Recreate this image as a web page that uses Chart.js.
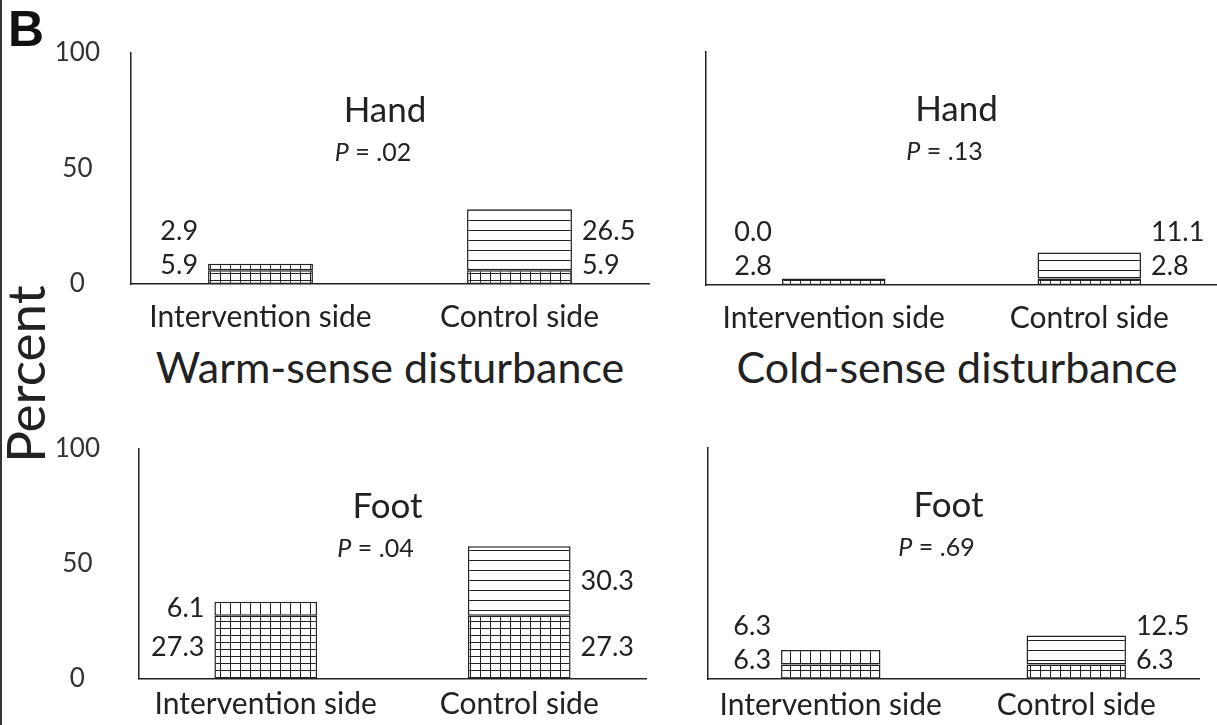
<!DOCTYPE html>
<html>
<head>
<meta charset="utf-8">
<script src="https://cdn.jsdelivr.net/npm/chart.js@4.4.1/dist/chart.umd.min.js"></script>
<style>
  body { margin: 0; background: #fff; width: 1217px; height: 725px; position: relative; overflow: hidden; font-family: Lato, sans-serif; color: #222; }
  canvas { position: absolute; }
  .txt { position: absolute; white-space: nowrap; text-align: center; }
</style>
</head>
<body>
<div style="position:absolute;left:0;top:0;width:2px;height:725px;background:#333"></div>
<div class="txt" style="left:8px;top:0px;font:bold 50px 'Liberation Sans',Arial,sans-serif;color:#111">B</div>
<div class="txt" style="left:-125px;top:347px;width:300px;height:54px;line-height:54px;font-size:53px;transform:rotate(-90deg)">Percent</div>
<div class="txt" style="left:90px;top:342px;width:600px;line-height:50px;font-size:43px">Warm-sense disturbance</div>
<div class="txt" style="left:657px;top:342px;width:600px;line-height:50px;font-size:43px">Cold-sense disturbance</div>

<canvas id="warmHand" width="660" height="340" style="left:0;top:0"></canvas>
<canvas id="coldHand" width="557" height="340" style="left:660px;top:0"></canvas>
<canvas id="warmFoot" width="660" height="335" style="left:0;top:390px"></canvas>
<canvas id="coldFoot" width="557" height="335" style="left:660px;top:390px"></canvas>

<script>
const sides = ['Intervention side', 'Control side'];
const yTicks = [0, 50, 100];

// lower segment (grid hatch) and upper segment of each bar, percent
const warmHandLower = [5.9, 5.9];
const warmHandUpper = [2.9, 26.5];
const coldHandLower = [2.8, 2.8];
const coldHandUpper = [0.0, 11.1];
const warmFootLower = [27.3, 27.3];
const warmFootUpper = [6.1, 30.3];
const coldFootLower = [6.3, 6.3];
const coldFootUpper = [6.3, 12.5];

const panelNames = ['Hand', 'Hand', 'Foot', 'Foot'];
const pValues = ['.02', '.13', '.04', '.69'];

const ink = '#222';

function makePattern(kind) {
    const c = document.createElement('canvas');
    const w = 10, h = kind === 'grid' ? 7 : 10;
    c.width = w; c.height = h;
    const g = c.getContext('2d');
    g.fillStyle = '#fff';
    g.fillRect(0, 0, w, h);
    g.fillStyle = ink;
    if (kind !== 'horiz') g.fillRect(0, 0, 1, h);
    if (kind !== 'vert') g.fillRect(0, 0, w, 1);
    return g.createPattern(c, 'repeat');
}

const gridPat = makePattern('grid');
const vertPat = makePattern('vert');
const horizPat = makePattern('horiz');

// numbers beside the bars, panel name and P value
const panelText = {
    id: 'panelText',
    afterDatasetsDraw(chart, args, opts) {
        const ctx = chart.ctx;
        const lowMeta = chart.getDatasetMeta(0);
        const upMeta = chart.getDatasetMeta(1);
        ctx.save();
        ctx.fillStyle = ink;
        ctx.textBaseline = 'middle';
        ctx.font = '27px Lato';
        for (let i = 0; i < 2; i++) {
            const lo = lowMeta.data[i], up = upMeta.data[i];
            const lowY = Math.min((lo.y + lo.base) / 2, lo.base - 19);
            const upY = Math.min((up.y + up.base) / 2, lowY - 34);
            const onLeft = i === 0;
            ctx.textAlign = onLeft ? 'right' : 'left';
            const x = onLeft ? lo.x - lo.width / 2 - 10 : lo.x + lo.width / 2 + 10;
            ctx.fillText(chart.data.datasets[0].data[i].toFixed(1), x, lowY);
            ctx.fillText(chart.data.datasets[1].data[i].toFixed(1), x, upY);
        }

        const a = chart.chartArea;
        const cx = (a.left + a.right) / 2;
        ctx.textAlign = 'center';
        ctx.font = '35px Lato';
        ctx.fillText(opts.name, cx - 5, a.top + 58);

        ctx.font = 'italic 25px Lato';
        const pW = ctx.measureText('P').width;
        ctx.font = '25px Lato';
        const rest = ' = ' + opts.p;
        const rW = ctx.measureText(rest).width;
        const sx = cx - 17 - (pW + rW) / 2;
        ctx.textAlign = 'left';
        ctx.font = 'italic 25px Lato';
        ctx.fillText('P', sx, a.top + 100);
        ctx.font = '25px Lato';
        ctx.fillText(rest, sx + pW, a.top + 100);
        ctx.restore();
    }
};

function drawPanel(id, lower, upper, idx, box) {
    new Chart(document.getElementById(id), {
        type: 'bar',
        data: {
            labels: sides,
            datasets: [
                { data: lower, backgroundColor: gridPat, borderColor: ink, borderWidth: 1.5, borderSkipped: false },
                { data: upper, backgroundColor: [vertPat, horizPat], borderColor: ink, borderWidth: 1.5, borderSkipped: false }
            ]
        },
        options: {
            responsive: false,
            animation: false,
            layout: { padding: { top: box.padTop, right: box.padRight, left: 0, bottom: 0 } },
            datasets: { bar: { categoryPercentage: 0.5, barPercentage: 0.81 } },
            plugins: {
                legend: { display: false },
                tooltip: { enabled: false },
                panelText: { name: panelNames[idx], p: pValues[idx] }
            },
            scales: {
                x: {
                    stacked: true,
                    grid: { display: false },
                    border: { display: true, color: ink, width: 1.5 },
                    ticks: { font: { family: 'Lato', size: 30 }, color: ink, padding: box.xp, maxRotation: 0, autoSkip: false },
                    afterFit: s => { s.height = box.xh; }
                },
                y: {
                    stacked: true,
                    min: 0,
                    max: 100,
                    grid: { display: false },
                    border: { display: true, color: ink, width: 1.5 },
                    afterBuildTicks: s => { s.ticks = yTicks.map(v => ({ value: v })); },
                    ticks: { display: box.showTicks, font: { family: 'Lato', size: 26 }, color: '#333', crossAlign: 'center', padding: box.yp },
                    afterFit: s => { s.width = box.yw; }
                }
            }
        },
        plugins: [panelText]
    });
}

drawPanel('warmHand', warmHandLower, warmHandUpper, 0, { padTop: 53, padRight: 11, yw: 131, xh: 56, xp: 7, yp: 23, showTicks: true });
drawPanel('coldHand', coldHandLower, coldHandUpper, 1, { padTop: 52, padRight: 0, yw: 46, xh: 55, xp: 7, yp: 20, showTicks: false });
drawPanel('warmFoot', warmFootLower, warmFootUpper, 2, { padTop: 59, padRight: 14, yw: 139, xh: 43, xp: 0, yp: 31, showTicks: true });
drawPanel('coldFoot', coldFootLower, coldFootUpper, 3, { padTop: 58, padRight: 18, yw: 48, xh: 46, xp: 0, yp: 20, showTicks: false });
</script>
</body>
</html>
